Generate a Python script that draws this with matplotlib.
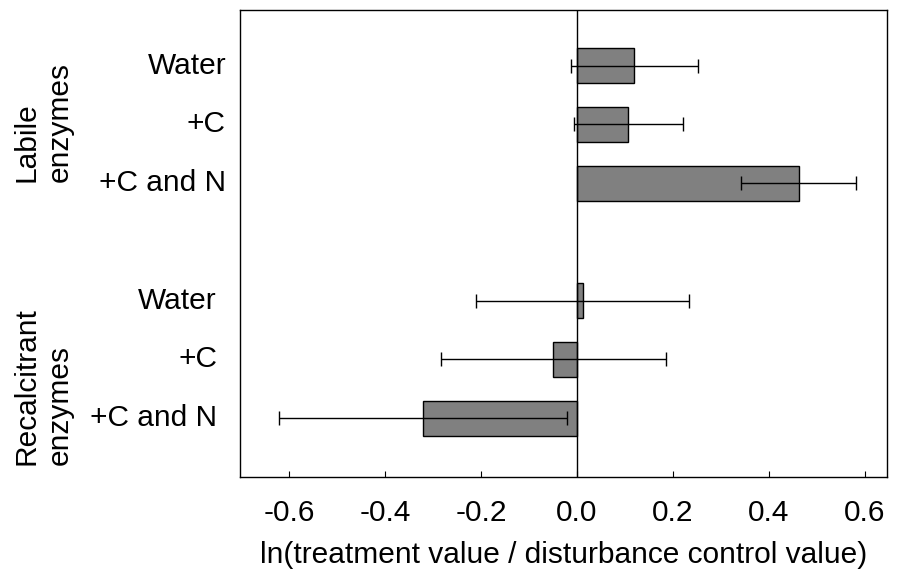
import matplotlib
matplotlib.use("Agg")
import matplotlib.pyplot as plt
import matplotlib.transforms as mtransforms

plt.rcParams['font.family'] = ['Liberation Sans', 'DejaVu Sans']

# values
treatments = ['Water', '+C', '+C and N']
labile_means = [0.119, 0.107, 0.462]
labile_err = [0.132, 0.113, 0.120]
recalc_means = [0.012, -0.049, -0.321]
recalc_err = [0.222, 0.234, 0.300]
groups = ['Labile\nenzymes', 'Recalcitrant\nenzymes']
xticks = [-0.6, -0.4, -0.2, 0.0, 0.2, 0.4, 0.6]

labile_pos = [6, 5, 4]
recalc_pos = [2, 1, 0]

fs = 21.5

fig = plt.figure(figsize=(9, 5.74), dpi=100)
ax = fig.add_axes([0.2667, 0.169, 0.719, 0.814])

ax.barh(labile_pos, labile_means, height=0.6, color='#808080', edgecolor='black', linewidth=1)
ax.barh(recalc_pos, recalc_means, height=0.6, color='#808080', edgecolor='black', linewidth=1)
ax.errorbar(labile_means, labile_pos, xerr=labile_err, fmt='none', ecolor='black',
            elinewidth=1, capsize=4.7, capthick=1)
ax.errorbar(recalc_means, recalc_pos, xerr=recalc_err, fmt='none', ecolor='black',
            elinewidth=1, capsize=4.7, capthick=1)
ax.axvline(0, color='black', linewidth=1)

ax.set_xlim(-0.702, 0.646)
ax.set_ylim(-1.0, 6.95)
ax.set_xticks(xticks)
ax.set_xticklabels(['%.1f' % v for v in xticks])
ax.set_yticks([])
ax.tick_params(axis='x', direction='in', length=4.5, width=0.8, labelsize=fs, pad=16)
for s in ax.spines.values():
    s.set_linewidth(1)
ax.set_xlabel('ln(treatment value / disturbance control value)', fontsize=fs, labelpad=10)

# category labels to the left of the axes
trans = mtransforms.blended_transform_factory(fig.transFigure, ax.transData)
for name, y in zip(treatments, labile_pos):
    ax.text(226 / 900, y, name, transform=trans, ha='right', va='center', fontsize=fs)
for name, y in zip(treatments, recalc_pos):
    ax.text(217 / 900, y, name, transform=trans, ha='right', va='center', fontsize=fs)

fig.text(43 / 900, 1 - 122 / 574, groups[0], rotation=90, ha='center', va='center',
         multialignment='left', fontsize=fs, linespacing=1.25)
fig.text(43 / 900, 1 - 386 / 574, groups[1], rotation=90, ha='center', va='center',
         multialignment='left', fontsize=fs, linespacing=1.25)

fig.savefig('out.png', dpi=100)
